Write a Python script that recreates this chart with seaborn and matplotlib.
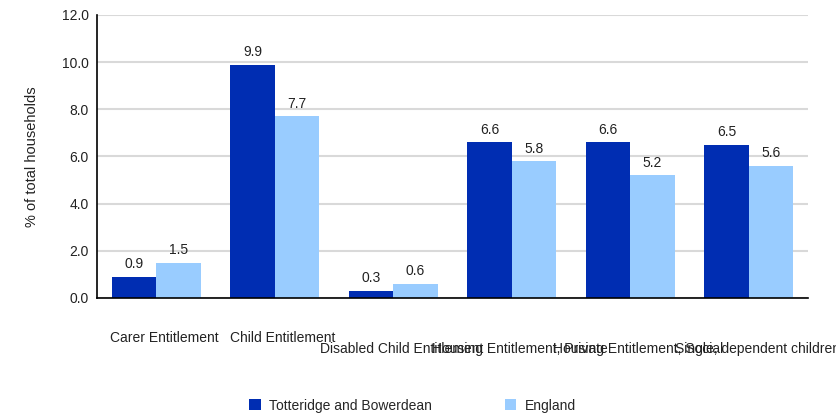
import numpy as np
import seaborn as sns
import matplotlib
matplotlib.use('Agg')
import matplotlib.pylab as plt
import pandas as pd

categories = ['Carer Entitlement', 'Child Entitlement', 'Disabled Child Entitlement',
              'Housing Entitlement, Private', 'Housing Entitlement, Social',
              'Single, dependent children']
area_values = [0.9, 9.9, 0.3, 6.6, 6.6, 6.5]
england_values = [1.5, 7.7, 0.6, 5.8, 5.2, 5.6]
series_names = ['Totteridge and Bowerdean', 'England']
y_ticks = [0, 2, 4, 6, 8, 10, 12]


def main():
    df = pd.DataFrame({'category': categories * 2,
                       'series': np.repeat(series_names, len(categories)),
                       'value': area_values + england_values})

    sns.set_style('white')
    plt.rcParams['font.family'] = ['Liberation Sans', 'DejaVu Sans']

    fig = plt.figure(figsize=(8.37, 4.13), dpi=100)
    ax = fig.add_axes([0.1159, 0.2785, 0.8495, 0.6852])

    sns.barplot(data=df, x='category', y='value', hue='series', order=categories,
                hue_order=series_names, palette=['#002db2', '#99ccff'],
                width=0.75, saturation=1, linewidth=0, ax=ax, legend=True)

    for cont in ax.containers:
        ax.bar_label(cont, fmt='%.1f', padding=4, fontsize=10, color='#222222')

    ax.set_ylim(0, 12)
    ax.set_yticks(y_ticks)
    ax.set_yticklabels(['%.1f' % t for t in y_ticks], fontsize=10, color='#222222')
    ax.yaxis.grid(True, color='#d9d9d9', linewidth=1.5)
    ax.set_axisbelow(True)
    ax.set_ylabel('% of total households', fontsize=10.5, color='#222222', labelpad=16)
    ax.set_xlabel('')
    ax.tick_params(axis='both', length=0, pad=6)
    ax.set_xlim(-0.5, len(categories) - 0.5)

    # x labels: first two on upper row, the rest drop to a lower row (as in original)
    ax.set_xticklabels([])
    for i, lab in enumerate(categories):
        dy = -24 if i < 2 else -32
        ax.annotate(lab, xy=(i, 0), xycoords=ax.get_xaxis_transform(),
                    xytext=(6, dy), textcoords='offset points',
                    ha='center', va='top', fontsize=10, color='#222222',
                    annotation_clip=False)

    for side in ['top', 'right']:
        ax.spines[side].set_visible(False)
    for side in ['left', 'bottom']:
        ax.spines[side].set_color('black')
        ax.spines[side].set_linewidth(1.2)

    handles, labels = ax.get_legend_handles_labels()
    ax.get_legend().remove()
    fig.legend(handles, labels, loc='center', bbox_to_anchor=(0.493, 0.018), ncol=2,
               frameon=False, fontsize=10, handlelength=0.8, handleheight=0.8,
               columnspacing=5.3, handletextpad=0.6)

    plt.savefig('out.png', dpi=100)


if __name__ == '__main__':
    main()
